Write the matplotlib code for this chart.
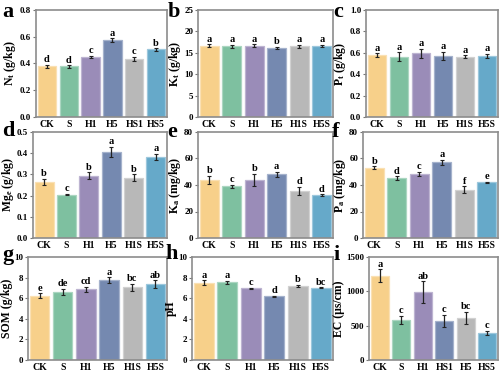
import matplotlib
matplotlib.use("Agg")
import matplotlib.pyplot as plt
import numpy as np
from matplotlib.colors import to_rgb

plt.rcParams['font.family'] = ['Liberation Serif', 'DejaVu Serif']
plt.rcParams['font.weight'] = 'bold'
plt.rcParams['mathtext.fontset'] = 'custom'
plt.rcParams['mathtext.rm'] = 'Liberation Serif:bold'
plt.rcParams['mathtext.it'] = 'Liberation Serif:bold'
plt.rcParams['mathtext.bf'] = 'Liberation Serif:bold'

colors = ['#F7D08A', '#7EC0A0', '#9A8CB8', '#7589B0', '#B8B8B8', '#66A9C9']

cats_a = ['CK', 'S', 'H1', 'H5', 'HS1', 'HS5']
cats_b = ['CK', 'S', 'H1', 'H5', 'H1S', 'H5S']
cats_i = ['CK', 'S', 'H1', 'HS1', 'H5', 'HS5']

nt = [0.38, 0.378, 0.45, 0.575, 0.435, 0.505]
nt_err = [0.01, 0.008, 0.008, 0.015, 0.015, 0.01]
nt_sig = ['d', 'd', 'c', 'a', 'c', 'b']

kt = [16.7, 16.5, 16.7, 16.2, 16.5, 16.6]
kt_err = [0.3, 0.4, 0.3, 0.2, 0.4, 0.3]
kt_sig = ['a', 'a', 'a', 'b', 'a', 'a']

pt = [0.58, 0.565, 0.595, 0.57, 0.565, 0.57]
pt_err = [0.015, 0.04, 0.045, 0.04, 0.01, 0.02]
pt_sig = ['a', 'a', 'a', 'a', 'a', 'a']

mge = [0.265, 0.205, 0.293, 0.405, 0.285, 0.383]
mge_err = [0.015, 0.003, 0.016, 0.025, 0.015, 0.015]
mge_sig = ['b', 'c', 'b', 'a', 'b', 'a']

ka = [44.0, 39.0, 44.0, 48.0, 35.5, 32.5]
ka_err = [3.0, 1.0, 4.5, 2.0, 3.0, 0.5]
ka_sig = ['b', 'c', 'b', 'a', 'd', 'd']

pa = [53.0, 45.0, 48.5, 57.0, 36.5, 42.0]
pa_err = [1.2, 1.5, 1.5, 2.0, 2.5, 0.6]
pa_sig = ['b', 'd', 'c', 'a', 'f', 'e']

som = [6.25, 6.6, 6.85, 7.75, 7.05, 7.35]
som_err = [0.25, 0.3, 0.25, 0.3, 0.35, 0.4]
som_sig = ['e', 'de', 'cd', 'a', 'bc', 'ab']

ph = [7.5, 7.55, 6.95, 6.2, 7.2, 7.0]
ph_err = [0.25, 0.15, 0.05, 0.05, 0.1, 0.05]
ph_sig = ['a', 'a', 'c', 'd', 'b', 'bc']

ec = [1230, 585, 990, 570, 615, 395]
ec_err = [90, 60, 160, 90, 90, 30]
ec_sig = ['a', 'c', 'ab', 'c', 'bc', 'c']

W, H = 500, 372
fig = plt.figure(figsize=(W / 100, H / 100), dpi=100)


def px_axes(l, t, r, b):
    return fig.add_axes([l / W, 1 - b / H, (r - l) / W, (b - t) / H])


def lighten(c, f=0.35):
    r, g, b = to_rgb(c)
    return (r + (1 - r) * f, g + (1 - g) * f, b + (1 - b) * f)


panels = [
    # letter, letter pos, box(l,t,r,b), cats, vals, err, sig, ylim, step, ylabel, fmt
    ('a', (2, 12), (36, 10, 167, 117), cats_a, nt, nt_err, nt_sig, 0.8, 0.2, r'N$_\mathregular{t}$ (g/kg)', '{:.1f}'),
    ('b', (168, 12), (198, 10, 333, 117), cats_b, kt, kt_err, kt_sig, 25, 5, r'K$_\mathregular{t}$ (g/kg)', '{:.0f}'),
    ('c', (333, 12), (366, 10, 498, 117), cats_b, pt, pt_err, pt_sig, 1.0, 0.2, r'P$_\mathregular{t}$ (g/kg)', '{:.1f}'),
    ('d', (2, 131), (33, 132, 167, 238), cats_b, mge, mge_err, mge_sig, 0.5, 0.1, r'Mg$_\mathregular{e}$ (g/kg)', '{:.1f}'),
    ('e', (167, 132), (198, 132, 333, 238), cats_b, ka, ka_err, ka_sig, 80, 20, r'K$_\mathregular{a}$ (mg/kg)', '{:.0f}'),
    ('f', (332, 132), (363, 132, 498, 238), cats_b, pa, pa_err, pa_sig, 80, 20, r'P$_\mathregular{a}$ (mg/kg)', '{:.0f}'),
    ('g', (2, 255), (28, 257, 167, 360), cats_b, som, som_err, som_sig, 10, 2, 'SOM (g/kg)', '{:.0f}'),
    ('h', (165, 254), (192, 257, 333, 360), cats_b, ph, ph_err, ph_sig, 10, 2, 'pH', '{:.0f}'),
    ('i', (333, 255), (369, 257, 498, 360), cats_i, ec, ec_err, ec_sig, 1500, 500, 'EC (\u03bcs/cm)', '{:.0f}'),
]

for letter, lpos, box, cats, vals, err, sig, ymax, step, ylabel, fmt in panels:
    ax = px_axes(*box)
    x = np.arange(len(cats))
    ax.bar(x, vals, width=0.84, color=colors,
           edgecolor=[lighten(c) for c in colors], linewidth=0.9, zorder=2)
    ax.errorbar(x, vals, yerr=err, fmt='none', ecolor='#222222',
                elinewidth=0.9, capsize=1.4, capthick=0.8, zorder=3)
    for xi, v, e, s in zip(x, vals, err, sig):
        ax.text(xi, v + e + ymax * 0.005, s, ha='center', va='bottom',
                fontsize=7.5, fontweight='bold')
    ax.set_xlim(-0.5, len(cats) - 0.5)
    ax.set_ylim(0, ymax)
    ticks = np.arange(0, ymax + step / 2, step)
    ax.set_yticks(ticks)
    ax.set_yticklabels([fmt.format(t) for t in ticks])
    ax.set_xticks(x)
    ax.set_xticklabels(cats)
    ax.tick_params(axis='x', length=0, pad=2, labelsize=7)
    ax.tick_params(axis='y', length=2, width=0.8, pad=1.5, labelsize=6.5,
                   color='#777777')
    for lab in ax.get_xticklabels() + ax.get_yticklabels():
        lab.set_fontweight('bold')
    for sp in ax.spines.values():
        sp.set_color('#8c8c8c')
        sp.set_linewidth(1.2)
    ax.set_ylabel(ylabel, fontsize=8.5, fontweight='bold', labelpad=1)
    fig.text(lpos[0] / W, 1 - lpos[1] / H, letter, fontsize=16,
             fontweight='bold', ha='left', va='center')

fig.savefig('out.png', dpi=100)
